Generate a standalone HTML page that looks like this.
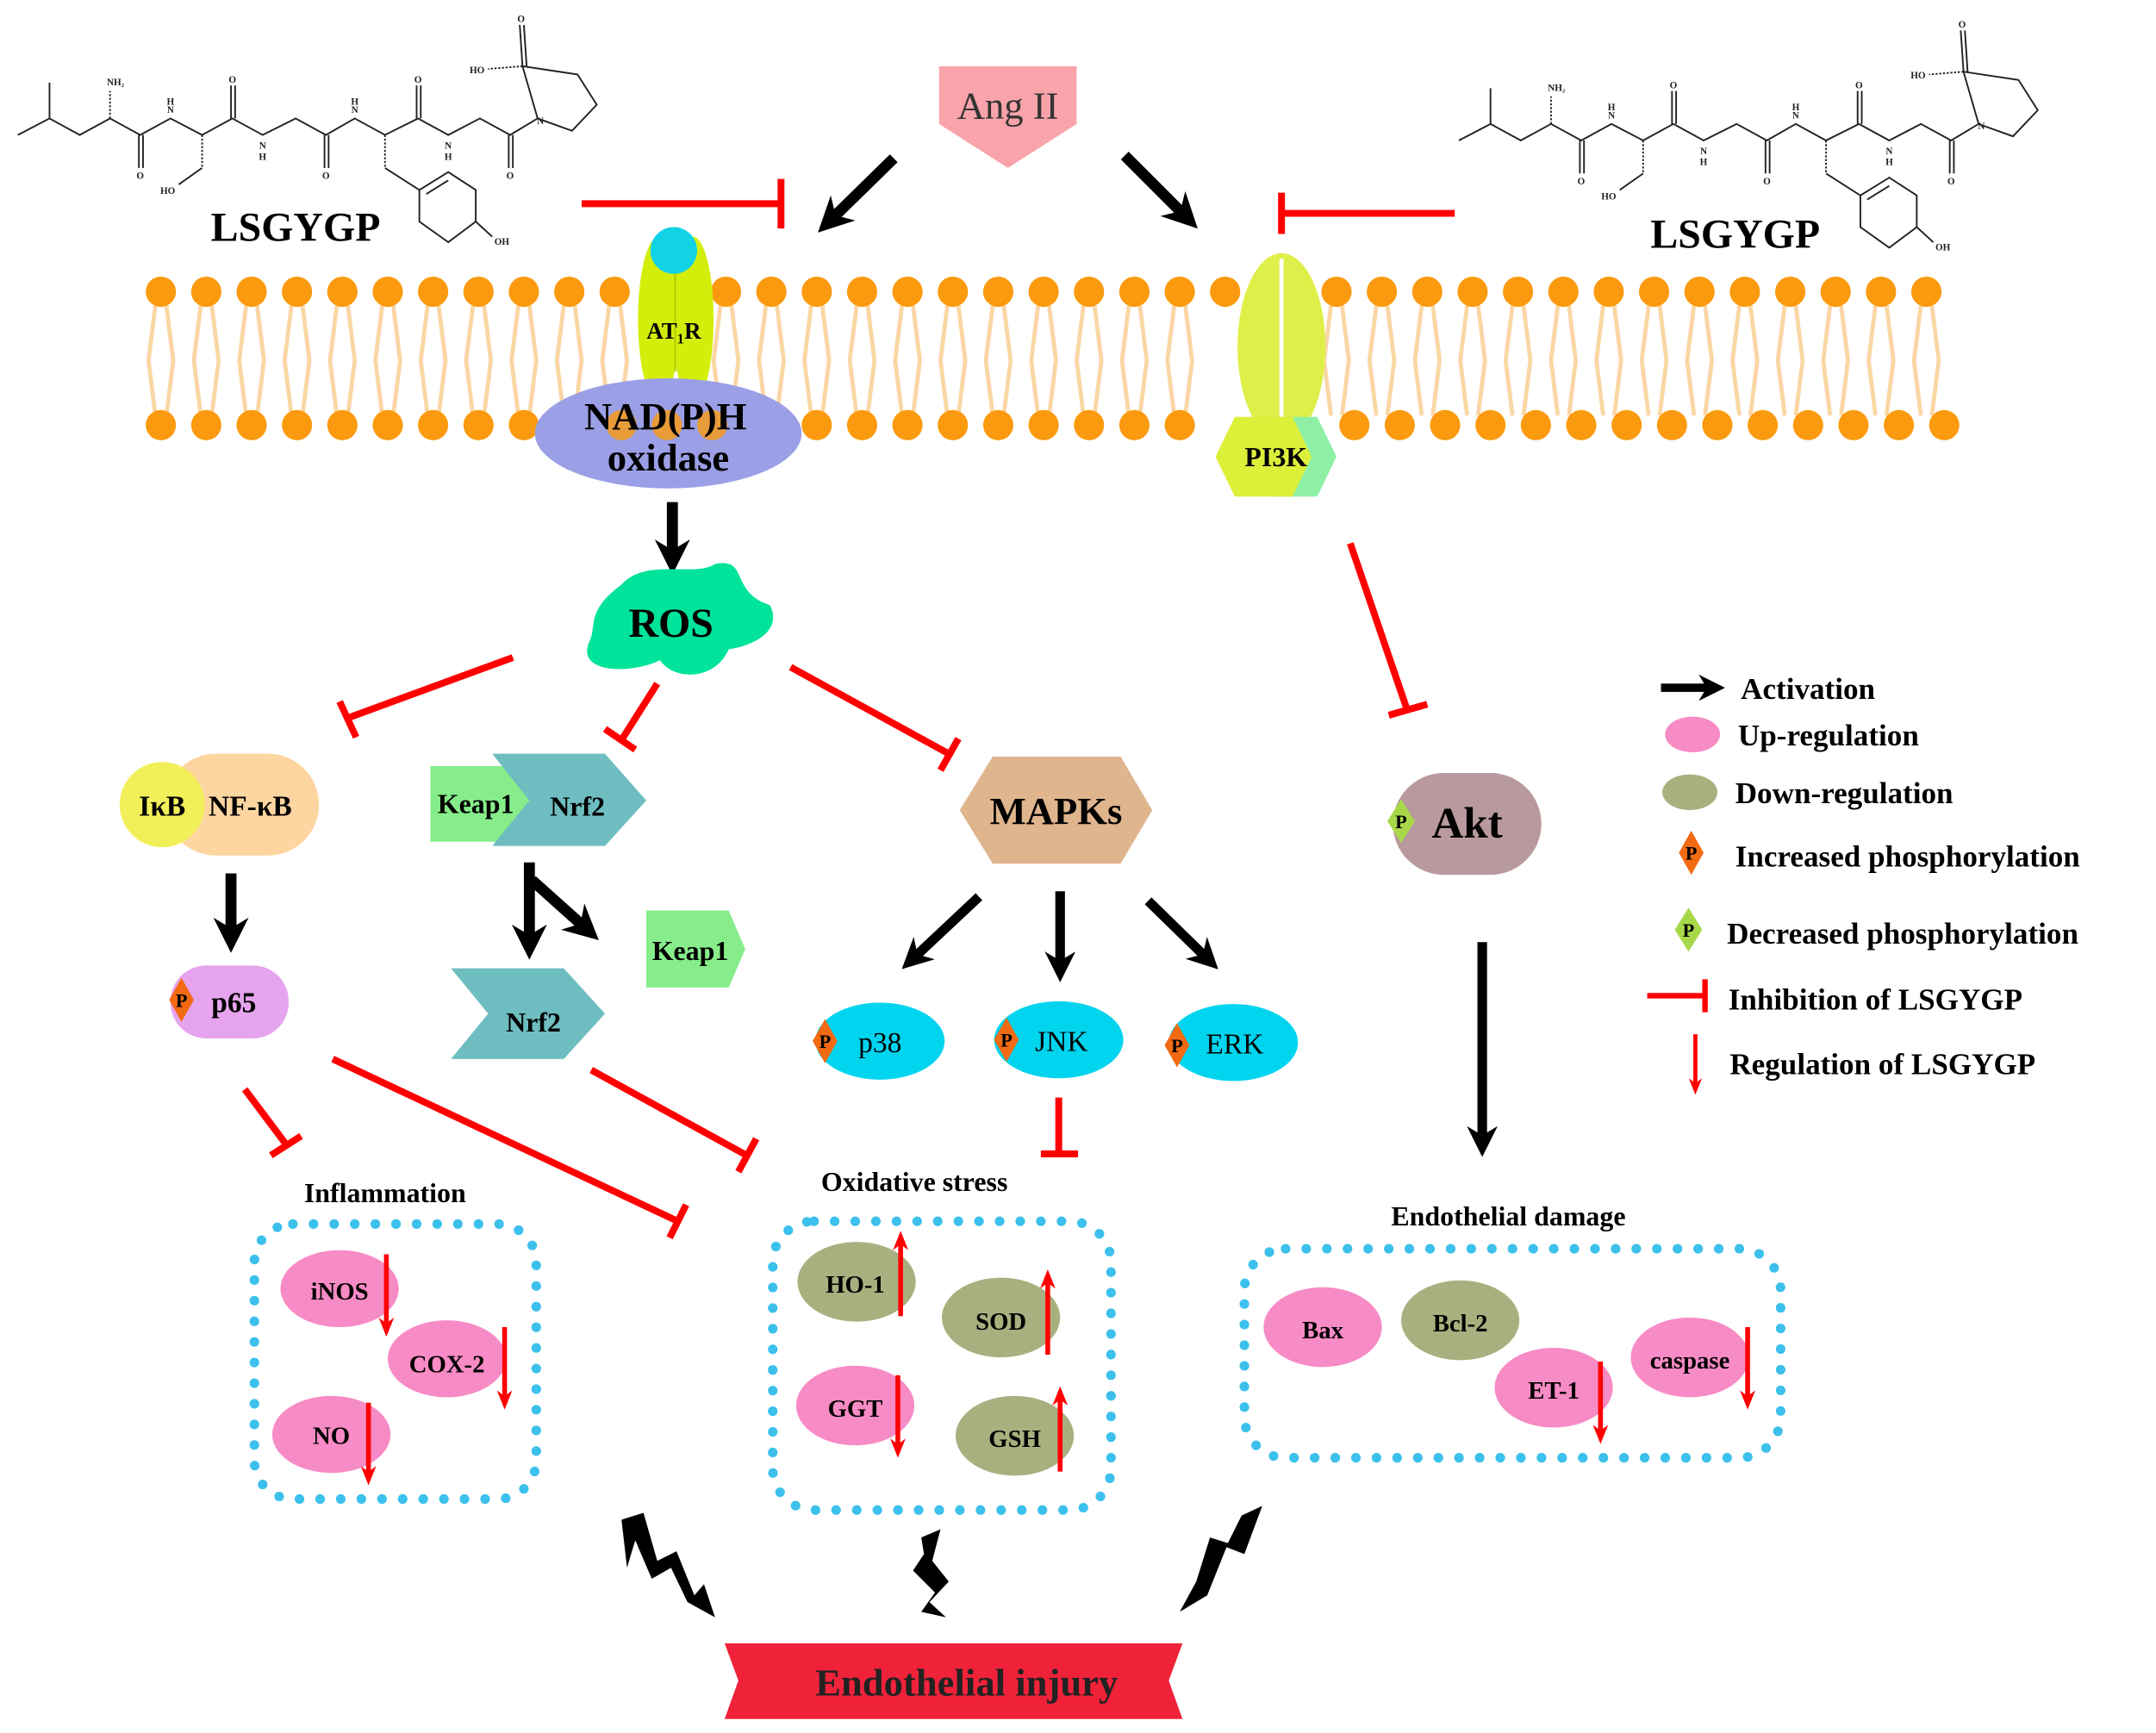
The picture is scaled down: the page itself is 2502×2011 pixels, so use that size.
<!DOCTYPE html>
<html><head><meta charset="utf-8"><style>html,body{margin:0;padding:0;background:#fff}svg{display:block}</style></head><body>
<svg xmlns="http://www.w3.org/2000/svg" width="2502" height="2011" viewBox="0 0 1568 1260" font-family="Liberation Serif, serif">
<defs>
<g id="mol" stroke="#222" stroke-width="1.2" fill="none">
<polyline points="13,98 36,86 58,98 80,86 102,98 124,86 147,98 169,86 191,98 215,86 237,98 258,86 280,98 304,86 326,98 349,86 371,98 391,86"/>
<line x1="36" y1="86" x2="36" y2="60"/>
<line x1="80" y1="86" x2="80" y2="66" stroke-dasharray="1.5 1.2"/>
<line x1="101" y1="98" x2="101" y2="122"/><line x1="104" y1="98" x2="104" y2="122"/>
<line x1="168" y1="86" x2="168" y2="62"/><line x1="171" y1="86" x2="171" y2="62"/>
<line x1="236" y1="98" x2="236" y2="122"/><line x1="239" y1="98" x2="239" y2="122"/>
<line x1="303" y1="86" x2="303" y2="62"/><line x1="306" y1="86" x2="306" y2="62"/>
<line x1="370" y1="98" x2="370" y2="122"/><line x1="373" y1="98" x2="373" y2="122"/>
<line x1="147" y1="98" x2="147" y2="122" stroke-dasharray="1.5 1.2"/><polyline points="147,122 130,134"/>
<line x1="280" y1="98" x2="280" y2="122" stroke-dasharray="1.5 1.2"/><polyline points="280,122 305,138"/>
<polygon points="305,138 326,125 346,138 346,161 326,176 305,161"/><polyline points="346,161 358,172"/>
<polyline points="310,141 326,131 M310,158 326,170"/>
<polygon points="391,86 380,48 420,54 434,76 416,95"/>
<line x1="380" y1="48" x2="355" y2="50" stroke-dasharray="1.5 1.2"/>
<line x1="380" y1="48" x2="378" y2="18"/><line x1="383" y1="48" x2="381" y2="18"/>
</g>
<g id="mtext" font-size="7" fill="#222" font-weight="bold" text-anchor="middle">
<text x="84" y="62">NH₂</text><text x="124" y="82">N</text><text x="124" y="76">H</text><text x="191" y="108">N</text><text x="191" y="116">H</text><text x="258" y="82">N</text><text x="258" y="76">H</text><text x="326" y="108">N</text><text x="326" y="116">H</text>
<text x="102" y="130">O</text><text x="169" y="60">O</text><text x="237" y="130">O</text><text x="304" y="60">O</text><text x="371" y="130">O</text>
<text x="122" y="141">HO</text><text x="365" y="178">OH</text><text x="347" y="53">HO</text><text x="379" y="16">O</text><text x="393" y="90">N</text>
</g>
<g id="pd"><polygon points="0,-16 9,0 0,16 -9,0" fill="#f26a12"/><text x="0" y="5" font-size="14" font-weight="bold" text-anchor="middle">P</text></g>
<g id="gd"><polygon points="0,-16 10,0 0,16 -10,0" fill="#a8d84a"/><text x="0" y="5" font-size="14" font-weight="bold" text-anchor="middle">P</text></g>
<marker id="ah" viewBox="0 0 10 10" refX="5" refY="5" markerWidth="3.2" markerHeight="3.2" orient="auto"><path d="M0,0 L10,5 L0,10 L3,5z" fill="#000"/></marker>
<marker id="rh" viewBox="0 0 10 10" refX="5" refY="5" markerWidth="4" markerHeight="4" orient="auto"><path d="M0,1 L10,5 L0,9 L3,5z" fill="#f00"/></marker>
</defs>
<rect width="1568" height="1260" fill="#fff"/>
<use href="#mol"/><use href="#mtext"/>
<g transform="translate(1048,4)"><use href="#mol"/><use href="#mtext"/></g>
<text x="215" y="175" font-size="30" font-weight="bold" text-anchor="middle">LSGYGP</text>
<text x="1262" y="180" font-size="30" font-weight="bold" text-anchor="middle">LSGYGP</text>
<!-- membrane -->
<g id="memb">
<g stroke="#fbd6a4" stroke-width="3" fill="none">
<path d="M113,222 l-5,40 l5,40 M121,222 l5,40 l-5,40 M146,222 l-5,40 l5,40 M154,222 l5,40 l-5,40 M179,222 l-5,40 l5,40 M187,222 l5,40 l-5,40 M212,222 l-5,40 l5,40 M220,222 l5,40 l-5,40 M245,222 l-5,40 l5,40 M253,222 l5,40 l-5,40 M278,222 l-5,40 l5,40 M286,222 l5,40 l-5,40 M311,222 l-5,40 l5,40 M319,222 l5,40 l-5,40 M344,222 l-5,40 l5,40 M352,222 l5,40 l-5,40 M377,222 l-5,40 l5,40 M385,222 l5,40 l-5,40 M410,222 l-5,40 l5,40 M418,222 l5,40 l-5,40 M443,222 l-5,40 l5,40 M451,222 l5,40 l-5,40 M524,222 l-5,40 l5,40 M532,222 l5,40 l-5,40 M557,222 l-5,40 l5,40 M565,222 l5,40 l-5,40 M590,222 l-5,40 l5,40 M598,222 l5,40 l-5,40 M623,222 l-5,40 l5,40 M631,222 l5,40 l-5,40 M656,222 l-5,40 l5,40 M664,222 l5,40 l-5,40 M689,222 l-5,40 l5,40 M697,222 l5,40 l-5,40 M722,222 l-5,40 l5,40 M730,222 l5,40 l-5,40 M755,222 l-5,40 l5,40 M763,222 l5,40 l-5,40 M788,222 l-5,40 l5,40 M796,222 l5,40 l-5,40 M821,222 l-5,40 l5,40 M829,222 l5,40 l-5,40 M854,222 l-5,40 l5,40 M862,222 l5,40 l-5,40 M968,222 l-5,40 l5,40 M976,222 l5,40 l-5,40 M1001,222 l-5,40 l5,40 M1009,222 l5,40 l-5,40 M1034,222 l-5,40 l5,40 M1042,222 l5,40 l-5,40 M1067,222 l-5,40 l5,40 M1075,222 l5,40 l-5,40 M1100,222 l-5,40 l5,40 M1108,222 l5,40 l-5,40 M1133,222 l-5,40 l5,40 M1141,222 l5,40 l-5,40 M1166,222 l-5,40 l5,40 M1174,222 l5,40 l-5,40 M1199,222 l-5,40 l5,40 M1207,222 l5,40 l-5,40 M1232,222 l-5,40 l5,40 M1240,222 l5,40 l-5,40 M1265,222 l-5,40 l5,40 M1273,222 l5,40 l-5,40 M1298,222 l-5,40 l5,40 M1306,222 l5,40 l-5,40 M1331,222 l-5,40 l5,40 M1339,222 l5,40 l-5,40 M1364,222 l-5,40 l5,40 M1372,222 l5,40 l-5,40 M1397,222 l-5,40 l5,40 M1405,222 l5,40 l-5,40"/>
</g>
<g fill="#fb9a0e">
<circle cx="117" cy="212" r="11"/><circle cx="150" cy="212" r="11"/><circle cx="183" cy="212" r="11"/><circle cx="216" cy="212" r="11"/><circle cx="249" cy="212" r="11"/><circle cx="282" cy="212" r="11"/><circle cx="315" cy="212" r="11"/><circle cx="348" cy="212" r="11"/><circle cx="381" cy="212" r="11"/><circle cx="414" cy="212" r="11"/><circle cx="447" cy="212" r="11"/><circle cx="528" cy="212" r="11"/><circle cx="561" cy="212" r="11"/><circle cx="594" cy="212" r="11"/><circle cx="627" cy="212" r="11"/><circle cx="660" cy="212" r="11"/><circle cx="693" cy="212" r="11"/><circle cx="726" cy="212" r="11"/><circle cx="759" cy="212" r="11"/><circle cx="792" cy="212" r="11"/><circle cx="825" cy="212" r="11"/><circle cx="858" cy="212" r="11"/><circle cx="891" cy="212" r="11"/><circle cx="972" cy="212" r="11"/><circle cx="1005" cy="212" r="11"/><circle cx="1038" cy="212" r="11"/><circle cx="1071" cy="212" r="11"/><circle cx="1104" cy="212" r="11"/><circle cx="1137" cy="212" r="11"/><circle cx="1170" cy="212" r="11"/><circle cx="1203" cy="212" r="11"/><circle cx="1236" cy="212" r="11"/><circle cx="1269" cy="212" r="11"/><circle cx="1302" cy="212" r="11"/><circle cx="1335" cy="212" r="11"/><circle cx="1368" cy="212" r="11"/><circle cx="1401" cy="212" r="11"/>
<circle cx="117" cy="309" r="11"/><circle cx="150" cy="309" r="11"/><circle cx="183" cy="309" r="11"/><circle cx="216" cy="309" r="11"/><circle cx="249" cy="309" r="11"/><circle cx="282" cy="309" r="11"/><circle cx="315" cy="309" r="11"/><circle cx="348" cy="309" r="11"/><circle cx="381" cy="309" r="11"/><circle cx="594" cy="309" r="11"/><circle cx="627" cy="309" r="11"/><circle cx="660" cy="309" r="11"/><circle cx="693" cy="309" r="11"/><circle cx="726" cy="309" r="11"/><circle cx="759" cy="309" r="11"/><circle cx="792" cy="309" r="11"/><circle cx="825" cy="309" r="11"/><circle cx="858" cy="309" r="11"/><circle cx="985" cy="309" r="11"/><circle cx="1018" cy="309" r="11"/><circle cx="1051" cy="309" r="11"/><circle cx="1084" cy="309" r="11"/><circle cx="1117" cy="309" r="11"/><circle cx="1150" cy="309" r="11"/><circle cx="1183" cy="309" r="11"/><circle cx="1216" cy="309" r="11"/><circle cx="1249" cy="309" r="11"/><circle cx="1282" cy="309" r="11"/><circle cx="1315" cy="309" r="11"/><circle cx="1348" cy="309" r="11"/><circle cx="1381" cy="309" r="11"/><circle cx="1414" cy="309" r="11"/>
</g>
</g>
<!-- Ang II -->
<polygon points="683,48 783,48 783,90 733,122 683,90" fill="#f9a3aa"/>
<text x="733" y="86" font-size="28" text-anchor="middle" fill="#333">Ang II</text>
<line x1="650" y1="115" x2="604" y2="160" stroke="#000" stroke-width="8" marker-end="url(#ah)"/>
<line x1="818" y1="113" x2="862" y2="157" stroke="#000" stroke-width="8" marker-end="url(#ah)"/>
<g stroke="#f00" stroke-width="5" fill="none">
<path d="M423,148 H568 M568,130 V166"/>
<path d="M1058,155 H932 M932,140 V170"/>
<path d="M373,478 L253,522 M247,510 L259,536"/>
<path d="M478,497 L452,538 M440,530 L462,545"/>
<path d="M575,485 L690,548 M684,560 L697,537"/>
<path d="M982,395 L1023,515 M1010,520 L1038,512"/>
<path d="M178,792 L208,832 M197,840 L219,826"/>
<path d="M242,770 L493,888 M487,900 L499,876"/>
<path d="M430,778 L543,840 M537,852 L550,828"/>
<path d="M770,798 V838 M757,839 H784"/>
</g>
<!-- AT1R -->
<ellipse cx="479" cy="232" rx="15" ry="60" fill="#d4ee0c"/>
<ellipse cx="504" cy="232" rx="15" ry="60" fill="#d4ee0c"/>
<line x1="491" y1="195" x2="491" y2="270" stroke="#b8d000" stroke-width="1.5"/>
<circle cx="490" cy="182" r="17" fill="#12d2e6"/>
<text x="490" y="246" font-size="17" font-weight="bold" text-anchor="middle">AT₁R</text>
<ellipse cx="486" cy="315" rx="97" ry="40" fill="#9b9fe6"/>
<circle cx="452" cy="309" r="11" fill="#fb9a0e" opacity="0.8"/><circle cx="485" cy="309" r="11" fill="#fb9a0e" opacity="0.8"/><circle cx="518" cy="309" r="11" fill="#fb9a0e" opacity="0.8"/>
<text x="484" y="312" font-size="28" font-weight="bold" text-anchor="middle">NAD(P)H</text>
<text x="486" y="342" font-size="28" font-weight="bold" text-anchor="middle">oxidase</text>
<!-- PI3K -->
<ellipse cx="932" cy="252" rx="32" ry="68" fill="#dfef4a"/>
<line x1="932" y1="188" x2="932" y2="320" stroke="#fff" stroke-width="3"/>
<polygon points="925,303 958,303 972,332 958,361 925,361" fill="#8ef0a6"/>
<polygon points="898,303 940,303 954,332 940,361 898,361 884,332" fill="#dcf03a"/>
<text x="928" y="339" font-size="20" font-weight="bold" text-anchor="middle">PI3K</text>
<line x1="489" y1="365" x2="489" y2="405" stroke="#000" stroke-width="8" marker-end="url(#ah)"/>
<!-- ROS -->
<path d="M452,425 C470,405 505,420 520,410 C545,405 530,430 560,440 C570,460 545,470 530,472 C520,495 490,495 480,480 C460,490 420,490 428,468 C435,455 425,445 452,425z" fill="#00e39a"/>
<text x="488" y="463" font-size="30" font-weight="bold" text-anchor="middle">ROS</text>
<!-- NF-kB -->
<rect x="120" y="548" width="112" height="74" rx="37" fill="#fdd5a0"/>
<circle cx="118" cy="585" r="31" fill="#f2f05a"/>
<text x="118" y="593" font-size="21" font-weight="bold" text-anchor="middle">IκB</text>
<text x="182" y="593" font-size="21" font-weight="bold" text-anchor="middle">NF-κB</text>
<line x1="168" y1="635" x2="168" y2="680" stroke="#000" stroke-width="8" marker-end="url(#ah)"/>
<rect x="124" y="702" width="86" height="53" rx="26" fill="#e7a4ee"/>
<use href="#pd" x="132" y="727"/>
<text x="170" y="736" font-size="21" font-weight="bold" text-anchor="middle">p65</text>
<!-- Keap1/Nrf2 -->
<polygon points="313,557 392,557 408,585 392,612 313,612" fill="#86ed8a"/>
<polygon points="358,548 440,548 470,582 440,615 358,615 385,582" fill="#6ebdc0"/>
<text x="346" y="591" font-size="20" font-weight="bold" text-anchor="middle">Keap1</text>
<text x="420" y="593" font-size="20" font-weight="bold" text-anchor="middle">Nrf2</text>
<line x1="385" y1="627" x2="385" y2="685" stroke="#000" stroke-width="8" marker-end="url(#ah)"/>
<line x1="387" y1="640" x2="426" y2="675" stroke="#000" stroke-width="8" marker-end="url(#ah)"/>
<polygon points="470,662 530,662 542,690 530,718 470,718" fill="#86ed8a"/>
<text x="502" y="698" font-size="20" font-weight="bold" text-anchor="middle">Keap1</text>
<polygon points="328,704 410,704 440,737 410,770 328,770 355,737" fill="#6ebdc0"/>
<text x="388" y="750" font-size="20" font-weight="bold" text-anchor="middle">Nrf2</text>
<!-- MAPKs -->
<polygon points="722,550 815,550 838,589 815,628 722,628 698,589" fill="#dfb58e"/>
<text x="768" y="599" font-size="28" font-weight="bold" text-anchor="middle">MAPKs</text>
<line x1="712" y1="652" x2="664" y2="697" stroke="#000" stroke-width="7" marker-end="url(#ah)"/>
<line x1="771" y1="648" x2="771" y2="703" stroke="#000" stroke-width="7" marker-end="url(#ah)"/>
<line x1="835" y1="655" x2="878" y2="697" stroke="#000" stroke-width="7" marker-end="url(#ah)"/>
<ellipse cx="640" cy="757" rx="47" ry="28" fill="#00d4ee"/><use href="#pd" x="600" y="757"/>
<text x="640" y="765" font-size="21" text-anchor="middle">p38</text>
<ellipse cx="770" cy="756" rx="47" ry="28" fill="#00d4ee"/><use href="#pd" x="732" y="756"/>
<text x="772" y="764" font-size="21" text-anchor="middle">JNK</text>
<ellipse cx="897" cy="758" rx="47" ry="28" fill="#00d4ee"/><use href="#pd" x="856" y="760"/>
<text x="898" y="766" font-size="21" text-anchor="middle">ERK</text>
<!-- Akt -->
<rect x="1013" y="562" width="108" height="74" rx="37" fill="#b8999e"/>
<use href="#gd" x="1019" y="597"/>
<text x="1067" y="609" font-size="32" font-weight="bold" text-anchor="middle">Akt</text>
<line x1="1078" y1="685" x2="1078" y2="830" stroke="#000" stroke-width="7" marker-end="url(#ah)"/>
<!-- boxes -->
<g fill="none" stroke="#3cc0ec" stroke-width="7" stroke-linecap="round" stroke-dasharray="0 15">
<rect x="185" y="890" width="205" height="200" rx="28"/>
<rect x="562" y="888" width="246" height="210" rx="30"/>
<rect x="905" y="908" width="390" height="152" rx="30"/>
</g>
<g font-size="20" font-weight="bold" text-anchor="middle">
<text x="280" y="874">Inflammation</text>
<text x="665" y="866">Oxidative stress</text>
<text x="1097" y="891">Endothelial damage</text>
</g>
<g font-size="18" font-weight="bold" text-anchor="middle">
<ellipse cx="247" cy="937" rx="43" ry="28" fill="#f78bc5"/><text x="247" y="945">iNOS</text>
<ellipse cx="325" cy="988" rx="43" ry="28" fill="#f78bc5"/><text x="325" y="998">COX-2</text>
<ellipse cx="241" cy="1043" rx="43" ry="28" fill="#f78bc5"/><text x="241" y="1050">NO</text>
<ellipse cx="623" cy="932" rx="43" ry="29" fill="#a9b07f"/><text x="622" y="940">HO-1</text>
<ellipse cx="728" cy="958" rx="43" ry="29" fill="#a9b07f"/><text x="728" y="967">SOD</text>
<ellipse cx="622" cy="1022" rx="43" ry="29" fill="#f78bc5"/><text x="622" y="1030">GGT</text>
<ellipse cx="738" cy="1044" rx="43" ry="29" fill="#a9b07f"/><text x="738" y="1052">GSH</text>
<ellipse cx="962" cy="965" rx="43" ry="29" fill="#f78bc5"/><text x="962" y="973">Bax</text>
<ellipse cx="1062" cy="960" rx="43" ry="29" fill="#a9b07f"/><text x="1062" y="968">Bcl-2</text>
<ellipse cx="1130" cy="1009" rx="43" ry="29" fill="#f78bc5"/><text x="1130" y="1017">ET-1</text>
<ellipse cx="1229" cy="987" rx="43" ry="29" fill="#f78bc5"/><text x="1229" y="995">caspase</text>
</g>
<g stroke="#f00" stroke-width="3.5" marker-end="url(#rh)">
<line x1="281" y1="912" x2="281" y2="965"/>
<line x1="367" y1="965" x2="367" y2="1018"/>
<line x1="268" y1="1020" x2="268" y2="1073"/>
<line x1="655" y1="957" x2="655" y2="902"/>
<line x1="762" y1="985" x2="762" y2="930"/>
<line x1="653" y1="1000" x2="653" y2="1053"/>
<line x1="771" y1="1070" x2="771" y2="1015"/>
<line x1="1164" y1="990" x2="1164" y2="1043"/>
<line x1="1271" y1="965" x2="1271" y2="1018"/>
</g>
<!-- lightning -->
<g fill="#000">
<polygon points="452,1105 468,1100 478,1135 492,1128 505,1160 512,1152 520,1176 500,1165 488,1140 474,1148 462,1120 456,1140"/>
<polygon points="670,1118 684,1112 678,1135 690,1150 676,1165 688,1176 670,1172 680,1158 664,1142 672,1130"/>
<polygon points="918,1095 905,1130 892,1125 878,1160 858,1172 870,1150 880,1118 893,1122 903,1102"/>
</g>
<!-- banner -->
<path d="M527,1195 H860 L850,1222 L860,1250 H527 L537,1222z" fill="#f0223a"/>
<text x="703" y="1233" font-size="28" font-weight="bold" text-anchor="middle" fill="#222">Endothelial injury</text>
<!-- legend -->
<g font-size="22" font-weight="bold">
<line x1="1208" y1="500" x2="1245" y2="500" stroke="#000" stroke-width="6" marker-end="url(#ah)"/>
<text x="1266" y="508">Activation</text>
<ellipse cx="1231" cy="534" rx="20" ry="13" fill="#f78bc5"/><text x="1264" y="542">Up-regulation</text>
<ellipse cx="1229" cy="576" rx="20" ry="13" fill="#a9b07f"/><text x="1262" y="584">Down-regulation</text>
<use href="#pd" x="1230" y="620"/><text x="1262" y="630">Increased phosphorylation</text>
<use href="#gd" x="1228" y="676"/><text x="1256" y="686">Decreased phosphorylation</text>
<path d="M1198,724 H1240 M1240,712 V736" stroke="#f00" stroke-width="4"/><text x="1257" y="734">Inhibition of LSGYGP</text>
<line x1="1233" y1="752" x2="1233" y2="790" stroke="#f00" stroke-width="3" marker-end="url(#rh)"/><text x="1258" y="781">Regulation of LSGYGP</text>
</g>
</svg>
</body></html>
